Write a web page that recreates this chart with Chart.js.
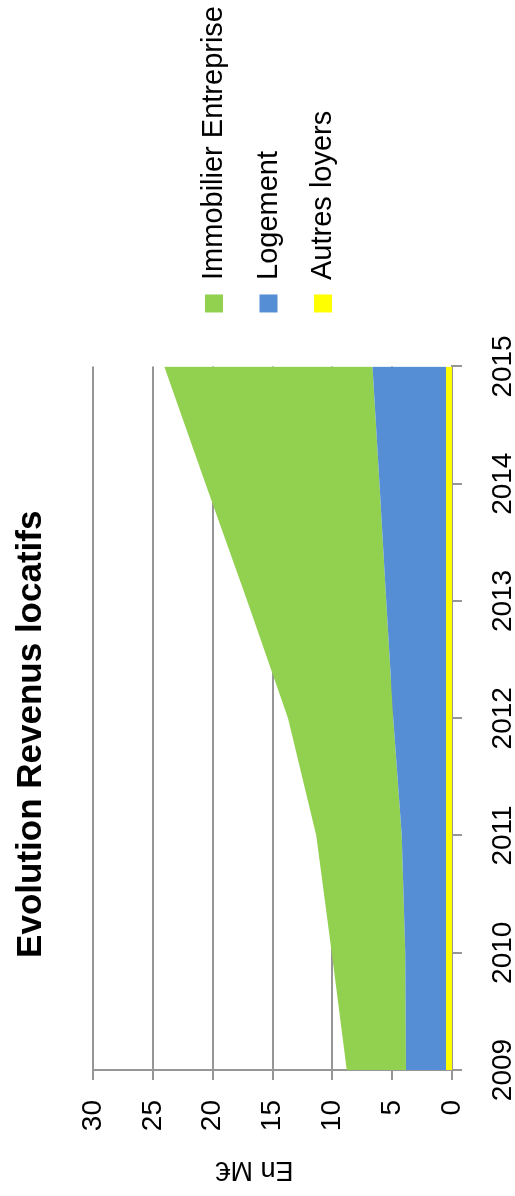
<!DOCTYPE html>
<html lang="fr">
<head>
<meta charset="utf-8">
<title>Evolution Revenus locatifs</title>
<script src="https://cdn.jsdelivr.net/npm/chart.js@4/dist/chart.umd.min.js"></script>
<style>
  html, body { margin: 0; padding: 0; background: #fff; overflow: hidden; }
  body { width: 515px; height: 1196px; position: relative; }
  /* the chart is laid out landscape and turned a quarter turn counter-clockwise */
  #wrap {
    position: absolute; left: 0; top: 0;
    width: 1196px; height: 515px;
    transform-origin: 0 0;
    transform: translateY(1196px) rotate(-90deg);
  }
  canvas { display: block; }
</style>
</head>
<body>
<div id="wrap"><canvas id="chart" width="1196" height="515"></canvas></div>
<script>
// Revenus locatifs par type de bien (en millions d'euros)
const years = ['2009', '2010', '2011', '2012', '2013', '2014', '2015'];
const autresLoyers = [0.5, 0.5, 0.5, 0.5, 0.5, 0.5, 0.5];
const logement = [3.35, 3.4, 3.7, 4.4, 5.0, 5.55, 6.15];
const immobilierEntreprise = [4.95, 6.15, 7.15, 8.8, 11.6, 14.55, 17.4];

const valueTicks = [0, 5, 10, 15, 20, 25, 30];
const chartTitle = 'Evolution Revenus locatifs';
const valueTitle = 'En M€';

const FONT = '"Liberation Sans", Arial, sans-serif';
const GRID = '#969696';

// value-axis caption, drawn a little above the axis middle
const axisCaption = {
  id: 'axisCaption',
  afterDraw(chart) {
    const y = chart.scales.y;
    const ctx = chart.ctx;
    ctx.save();
    ctx.translate(y.left + 26.6, (y.top + y.bottom) / 2 - 18);
    ctx.rotate(-Math.PI / 2);
    ctx.font = '27px ' + FONT;
    ctx.fillStyle = '#000';
    ctx.textAlign = 'center';
    ctx.textBaseline = 'middle';
    ctx.fillText(valueTitle, 0, 0);
    ctx.restore();
  }
};

// small placement tweaks for the title and legend blocks
const blockShift = {
  id: 'blockShift',
  afterLayout(chart) {
    const t = chart.titleBlock;
    if (t) { t.left -= 16; t.right -= 16; }
    const l = chart.legend;
    if (l) { l.top -= 4; l.bottom -= 4; }
  }
};

new Chart(document.getElementById('chart'), {
  type: 'line',
  data: {
    labels: years,
    datasets: [
      { label: 'Autres loyers', data: autresLoyers, backgroundColor: '#FFFF00', fill: 'origin' },
      { label: 'Logement', data: logement, backgroundColor: '#558ED5', fill: '-1' },
      { label: 'Immobilier Entreprise', data: immobilierEntreprise, backgroundColor: '#92D050', fill: '-1' }
    ]
  },
  options: {
    responsive: false,
    animation: false,
    devicePixelRatio: 1,
    layout: { padding: { left: 0, top: 0, right: -4, bottom: 0 } },
    elements: {
      line: { tension: 0, borderWidth: 0, borderColor: 'transparent' },
      point: { radius: 0, hoverRadius: 0 }
    },
    scales: {
      x: {
        type: 'category',
        offset: false,
        z: 1,
        grid: {
          drawOnChartArea: true,
          color: c => (c.index === 0 ? GRID : 'transparent'),
          tickColor: GRID,
          lineWidth: 2,
          tickLength: 10
        },
        border: { display: true, color: GRID, width: 2 },
        ticks: {
          color: '#000',
          font: { family: FONT, size: 28 },
          padding: 24.5,
          maxRotation: 0,
          autoSkip: false
        },
        afterFit(s) { s.height = 63; }
      },
      y: {
        stacked: true,
        min: 0,
        max: 30,
        afterBuildTicks(s) { s.ticks = valueTicks.map(v => ({ value: v })); },
        grid: { color: GRID, lineWidth: 2, tickLength: 10 },
        border: { display: true, color: GRID, width: 2 },
        ticks: {
          color: '#000',
          font: { family: FONT, size: 28 },
          padding: 20
        },
        afterFit(s) { s.width = 126; }
      },
      gap: {
        type: 'linear',
        position: 'right',
        display: true,
        grid: { display: false },
        border: { display: false },
        ticks: { display: false },
        afterFit(s) { s.width = 28.5; }
      }
    },
    plugins: {
      title: {
        display: true,
        text: chartTitle,
        fullSize: false,
        color: '#000',
        font: { family: FONT, size: 35, weight: 'bold' },
        padding: { top: 10, bottom: 41 }
      },
      legend: {
        display: true,
        position: 'right',
        fullSize: false,
        reverse: true,
        maxWidth: 400,
        labels: {
          color: '#000',
          font: { family: FONT, size: 29 },
          boxWidth: 18,
          boxHeight: 18,
          padding: 25.5
        }
      },
      tooltip: { enabled: false }
    }
  },
  plugins: [axisCaption, blockShift]
});
</script>
</body>
</html>
